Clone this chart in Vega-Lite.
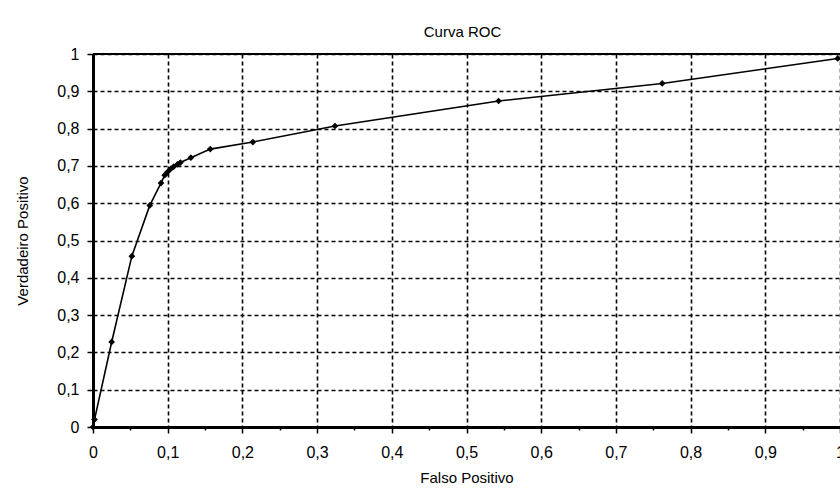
{
  "$schema": "https://vega.github.io/schema/vega-lite/v6.json",
  "autosize": "none",
  "padding": {"left": 93, "top": 54, "right": 0, "bottom": 68},
  "width": 747,
  "height": 373,
  "background": "white",
  "title": {"text": "Curva ROC", "font": "Liberation Sans", "fontSize": 15, "fontWeight": "normal", "color": "black", "offset": 6, "dx": -4},
  "config": {
    "view": {"stroke": null},
    "axis": {
      "domainColor": "black", "domainWidth": 3,
      "tickColor": "black", "tickWidth": 1.5,
      "tickSize": {"condition": {"test": "abs(datum.value*10 - round(datum.value*10)) < 0.01", "value": 6}, "value": 3},
      "grid": true, "gridColor": "black", "gridDash": [4, 3], "gridWidth": 1.6,
      "gridOpacity": {"condition": {"test": "abs(datum.value*10 - round(datum.value*10)) < 0.01", "value": 1}, "value": 0},
      "labelFont": "Liberation Sans", "labelFontSize": 16, "labelColor": "black",
      "labelExpr": "abs(datum.value*10 - round(datum.value*10)) < 0.01 ? replace(format(datum.value, '.1~f'), '.', ',') : ''",
      "titleFont": "Liberation Sans", "titleFontSize": 15, "titleFontWeight": "normal", "titleColor": "black",
      "labelOverlap": false, "labelBound": false, "labelFlush": false,
      "values": [0,0.025,0.05,0.075,0.1,0.125,0.15,0.175,0.2,0.225,0.25,0.275,0.3,0.325,0.35,0.375,0.4,0.425,0.45,0.475,0.5,0.525,0.55,0.575,0.6,0.625,0.65,0.675,0.7,0.725,0.75,0.775,0.8,0.825,0.85,0.875,0.9,0.925,0.95,0.975,1]
    },
    "axisX": {"labelPadding": 11, "titlePadding": 10},
    "axisY": {"labelPadding": 8, "titlePadding": 26}
  },
  "data": {"values": [
    {"fp": 0.0, "vp": 0.0},
    {"fp": 0.002, "vp": 0.02},
    {"fp": 0.025, "vp": 0.228},
    {"fp": 0.052, "vp": 0.458},
    {"fp": 0.076, "vp": 0.594},
    {"fp": 0.091, "vp": 0.654},
    {"fp": 0.096, "vp": 0.675},
    {"fp": 0.1, "vp": 0.684},
    {"fp": 0.104, "vp": 0.692},
    {"fp": 0.108, "vp": 0.698},
    {"fp": 0.113, "vp": 0.704},
    {"fp": 0.117, "vp": 0.709},
    {"fp": 0.131, "vp": 0.722},
    {"fp": 0.157, "vp": 0.745},
    {"fp": 0.214, "vp": 0.764},
    {"fp": 0.324, "vp": 0.807},
    {"fp": 0.543, "vp": 0.874},
    {"fp": 0.762, "vp": 0.921},
    {"fp": 0.997, "vp": 0.988}
  ]},
  "layer": [
    {
      "data": {"values": [{}]},
      "mark": {"type": "rule", "color": "black", "strokeWidth": 2},
      "encoding": {"y": {"datum": 1, "type": "quantitative", "title": "Verdadeiro Positivo", "scale": {"domain": [0, 1], "nice": false}}}
    },
    {
      "mark": {"type": "line", "color": "black", "strokeWidth": 1.6, "clip": false},
      "encoding": {
        "x": {"field": "fp", "type": "quantitative", "title": "Falso Positivo",
              "scale": {"domain": [0, 1], "nice": false}},
        "y": {"field": "vp", "type": "quantitative", "title": "Verdadeiro Positivo",
              "scale": {"domain": [0, 1], "nice": false}}
      }
    },
    {
      "mark": {"type": "point", "filled": true, "color": "black", "size": 45, "shape": "diamond", "opacity": 1, "clip": false},
      "encoding": {
        "x": {"field": "fp", "type": "quantitative"},
        "y": {"field": "vp", "type": "quantitative"}
      }
    }
  ]
}
